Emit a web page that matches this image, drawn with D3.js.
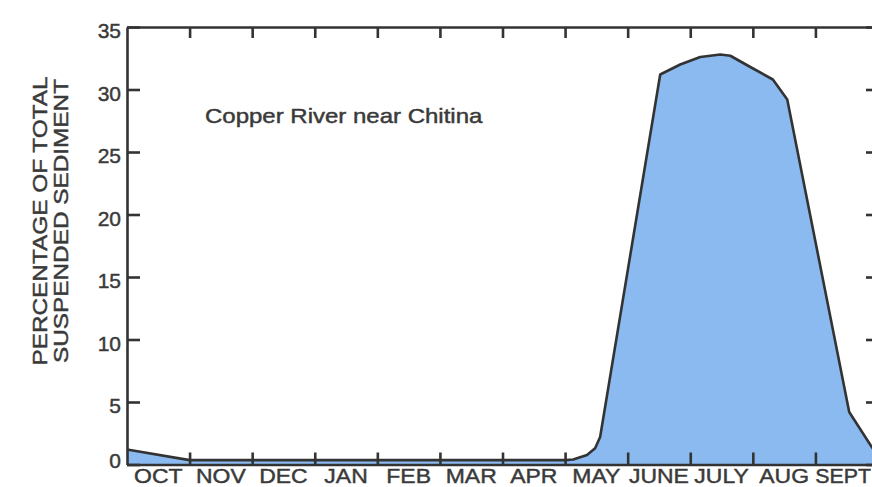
<!DOCTYPE html>
<html>
<head>
<meta charset="utf-8">
<script src="https://cdn.jsdelivr.net/npm/d3@7"></script>
<style>
  html, body { margin: 0; padding: 0; background: #ffffff; }
  svg { display: block; }
  text { font-family: "Liberation Sans", Arial, Helvetica, sans-serif; fill: #3a3a3a; stroke: #3a3a3a; stroke-width: 0.45px; }
</style>
</head>
<body>
<svg id="chart" width="872" height="487"></svg>
<script>
// ---- data ----
const months = ["OCT", "NOV", "DEC", "JAN", "FEB", "MAR", "APR", "MAY", "JUNE", "JULY", "AUG", "SEPT"];
// position in months since Oct 1 (water year)
const monthPos = [0, 1, 2, 3, 4, 5, 6, 7, 7.13, 7.35, 7.48, 7.56, 8.52, 8.84, 9.16, 9.48, 9.64, 9.96, 10.32, 10.55, 11.54, 11.9, 12];
// percentage of total suspended sediment
const pct = [1.2, 0.35, 0.35, 0.35, 0.35, 0.35, 0.35, 0.35, 0.4, 0.76, 1.3, 2.2, 31.2, 32.0, 32.6, 32.8, 32.7, 31.8, 30.8, 29.2, 4.2, 1.4, 0.7];
const yTicks = [0, 5, 10, 15, 20, 25, 30, 35];
const monthTicks = [1, 2, 3, 4, 5, 6, 7, 8, 9, 10, 11, 12];
const chartTitle = "Copper River near Chitina";
const yTitle1 = "PERCENTAGE OF TOTAL";
const yTitle2 = "SUSPENDED SEDIMENT";

// ---- layout ----
const W = 872;
const svg = d3.select("#chart");
const x = d3.scaleLinear().domain([0, 12]).range([127, 878]);
const y = d3.scaleLinear().domain([0, 35]).range([464.5, 27]);
const ink = "#333333";

const data = monthPos.map((m, i) => ({ m, v: pct[i] }));

const area = d3.area().x(d => x(d.m)).y0(y(0)).y1(d => y(d.v)).curve(d3.curveLinear);
const line = d3.line().x(d => x(d.m)).y(d => y(d.v)).curve(d3.curveLinear);

svg.append("path").datum(data).attr("d", area).attr("fill", "#8bbaf0");
svg.append("path").datum(data).attr("d", line)
  .attr("fill", "none").attr("stroke", ink).attr("stroke-width", 2.6)
  .attr("stroke-linejoin", "round");

function styleAxis(g) {
  g.select(".domain").attr("stroke", ink).attr("stroke-width", 2.6);
  g.selectAll(".tick line").attr("stroke", ink).attr("stroke-width", 2.6);
}

// left axis
const gl = svg.append("g").attr("transform", `translate(${x(0)},0)`)
  .call(d3.axisLeft(y).tickValues(yTicks).tickSize(-13).tickPadding(6).tickSizeOuter(0));
styleAxis(gl);
gl.selectAll(".tick text")
  .style("font-family", '"Liberation Sans", Arial, sans-serif')
  .attr("font-size", 21).attr("fill", "#3a3a3a")
  .attr("dy", d => d === 0 ? "0.15em" : "0.5em");

// right axis (mostly off-canvas)
const gr = svg.append("g").attr("transform", `translate(${x(12)},0)`)
  .call(d3.axisLeft(y).tickValues(yTicks).tickSize(12).tickFormat("").tickSizeOuter(0));
styleAxis(gr);

// top axis
const gt = svg.append("g").attr("transform", `translate(0,${y(35)})`)
  .call(d3.axisBottom(x).tickValues(monthTicks).tickSize(11).tickFormat("").tickSizeOuter(0));
styleAxis(gt);

// bottom axis
const gb = svg.append("g").attr("transform", `translate(0,${y(0)})`)
  .call(d3.axisTop(x).tickValues(monthTicks).tickSize(12).tickFormat("").tickSizeOuter(0));
styleAxis(gb);

// month labels (last one kept inside the canvas)
const last = months.length - 1;
svg.append("g").selectAll("text").data(months).join("text")
  .attr("transform", (d, i) => i === last
      ? `translate(${W - 1},482.5) scale(1.04,1)`
      : `translate(${x(i + 0.5)},482.5) scale(1.12,1)`)
  .attr("text-anchor", (d, i) => i === last ? "end" : "middle")
  .attr("font-size", 20.5)
  .text(d => d);

// chart title
svg.append("text")
  .attr("transform", `translate(205,123) scale(1.2,1)`)
  .attr("font-size", 20)
  .text(chartTitle);

// y title
const yMid = 221;
svg.append("text")
  .attr("transform", `translate(47,${yMid}) rotate(-90) scale(1.16,1)`)
  .attr("text-anchor", "middle").attr("font-size", 21)
  .text(yTitle1);
svg.append("text")
  .attr("transform", `translate(68,${yMid}) rotate(-90) scale(1.16,1)`)
  .attr("text-anchor", "middle").attr("font-size", 21)
  .text(yTitle2);
</script>
</body>
</html>
